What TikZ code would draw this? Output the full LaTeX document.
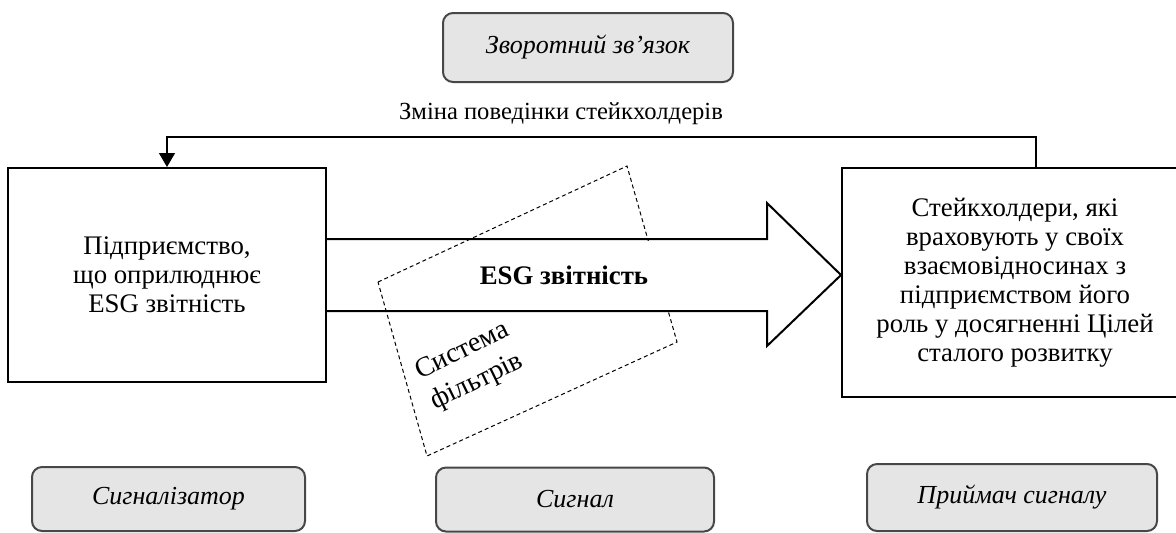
\documentclass[tikz,border=0pt]{standalone}
\usepackage{fontspec}
\setmainfont{Liberation Serif}
\usetikzlibrary{arrows.meta,calc}
\begin{document}
\begin{tikzpicture}[x=0.5pt,y=-0.5pt,
  font=\fontsize{13.4}{14.5}\selectfont,
  mainbox/.style={draw=black, line width=1pt, align=center, inner sep=0pt},
  rolebox/.style={draw=black!72, line width=1pt, fill=black!10, rounded corners=5pt,
    inner sep=0pt, font=\fontsize{13}{14.5}\selectfont\itshape},
  fbline/.style={draw=black, line width=0.6pt, -{Triangle[length=7pt,width=8pt]}},
  bigarrow/.style={draw=black, line width=1pt, line join=miter},
  filterbox/.style={draw=black, line width=0.5pt, dash pattern=on 2pt off 1.5pt}]
\useasboundingbox (0,0) rectangle (1176,532);

% role boxes
\node[rolebox, minimum width=145pt, minimum height=34.5pt] (fb) at (588,47.5) {Зворотний зв’язок};
\node[rolebox, minimum width=136.5pt, minimum height=32pt] (sig) at (168.5,499) {Сигналізатор};
\node[rolebox, minimum width=139pt, minimum height=32pt] (sgn) at (575,499.5) {Сигнал};
\node[rolebox, minimum width=145pt, minimum height=33.5pt] (rcv) at (1012,497.5) {Приймач сигналу};

% main boxes
\node[mainbox, minimum width=159pt, minimum height=107pt] (firm) at (167,275)
  {Підприємство,\\що оприлюднює\\ESG звітність};
\node[mainbox, minimum width=173pt, minimum height=114.5pt] (rbox) at (1015,282.5)
  {Стейкхолдери, які\\враховують у своїх\\взаємовідносинах з\\підприємством його\\роль у досягненні Цілей\\сталого розвитку};

% filter frame
\coordinate (fl) at (378,282);
\coordinate (ft) at (627,166);
\coordinate (fr) at (677,342);
\coordinate (fbt) at (427,456);
\draw[filterbox] (fl) -- (ft) -- (fr) -- (fbt) -- cycle;
\node[rotate=26, align=center, font=\fontsize{14}{17}\selectfont] (filtlbl) at (470,367)
  {Система\\фільтрів};

% big arrow
\coordinate (tip) at (rbox.west |- firm.east);
\draw[bigarrow] ([yshift=18pt]firm.east) -- ([xshift=-37pt,yshift=18pt]tip)
  -- ([xshift=-37pt,yshift=36pt]tip) -- (tip)
  -- ([xshift=-37pt,yshift=-35.5pt]tip) -- ([xshift=-37pt,yshift=-18pt]tip)
  -- ([yshift=-18pt]firm.east);
\node[fill=white, inner sep=0pt, minimum width=100pt, minimum height=34.5pt,
  font=\fontsize{13.4}{14.5}\selectfont\bfseries] (esg) at (572,275.5) {ESG звітність\hspace*{8pt}};

% feedback connector
\draw[fbline] ([xshift=10.5pt]rbox.north) -- ++(0,-30) -| (firm.north);
\node[anchor=base, font=\fontsize{12.3}{14}\selectfont] (lbl) at (561,119) {Зміна поведінки стейкхолдерів};
\end{tikzpicture}
\end{document}
